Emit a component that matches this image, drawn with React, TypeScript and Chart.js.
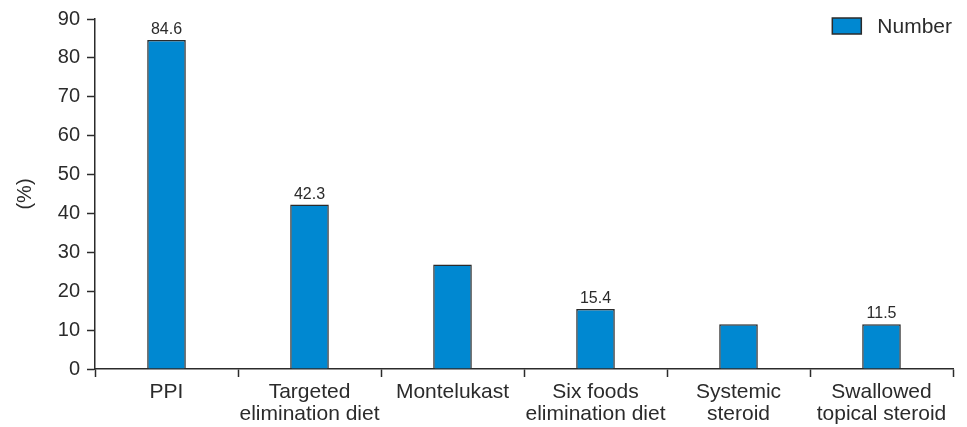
import React, { useEffect, useRef } from 'react';
import { Chart, registerables } from 'chart.js';
import type { Plugin } from 'chart.js';

Chart.register(...registerables);

const categories: string[][] = [
  ['PPI'],
  ['Targeted', 'elimination diet'],
  ['Montelukast'],
  ['Six foods', 'elimination diet'],
  ['Systemic', 'steroid'],
  ['Swallowed', 'topical steroid'],
];
const percentValues = [84.6, 42.3, 26.9, 15.4, 11.5, 11.5];
const valueLabels = ['84.6', '42.3', '', '15.4', '', '11.5'];
const yTicks = [0, 10, 20, 30, 40, 50, 60, 70, 80, 90];

const seriesName = 'Number';
const barColor = '#0088d1';
const inkColor = '#2b2b2b';
const fontFamily = '"Liberation Sans", Arial, sans-serif';

// labels above selected bars
const valueLabelPlugin: Plugin<'bar'> = {
  id: 'valueLabels',
  afterDatasetsDraw(chart) {
    const ctx = chart.ctx;
    const meta = chart.getDatasetMeta(0);
    ctx.save();
    ctx.font = `16px ${fontFamily}`;
    ctx.fillStyle = inkColor;
    ctx.textAlign = 'center';
    ctx.textBaseline = 'alphabetic';
    meta.data.forEach((bar, i) => {
      const text = valueLabels[i];
      if (!text) return;
      ctx.fillText(text, bar.x, bar.y - 6);
    });
    ctx.restore();
  },
};

// legend drawn in the top right corner of the plot
const cornerLegendPlugin: Plugin<'bar'> = {
  id: 'cornerLegend',
  afterDraw(chart) {
    const ctx = chart.ctx;
    const area = chart.chartArea;
    const label = chart.data.datasets[0].label || '';
    ctx.save();
    ctx.font = `21px ${fontFamily}`;
    const textW = ctx.measureText(label).width;
    const textX = area.right - textW - 1;
    const boxX = textX - 16 - 29;
    const boxY = 18;
    ctx.fillStyle = barColor;
    ctx.fillRect(boxX, boxY, 29, 16);
    ctx.strokeStyle = inkColor;
    ctx.lineWidth = 1.5;
    ctx.strokeRect(boxX, boxY, 29, 16);
    ctx.fillStyle = inkColor;
    ctx.textBaseline = 'middle';
    ctx.fillText(label, textX, boxY + 9);
    ctx.restore();
  },
};

const App: React.FC = () => {
  const canvasRef = useRef<HTMLCanvasElement | null>(null);
  const chartRef = useRef<Chart<'bar'> | null>(null);

  useEffect(() => {
    document.body.style.margin = '0';
    if (!canvasRef.current) return;
    if (chartRef.current) chartRef.current.destroy();

    chartRef.current = new Chart(canvasRef.current, {
      type: 'bar',
      data: {
        labels: categories,
        datasets: [
          {
            label: seriesName,
            data: percentValues,
            backgroundColor: barColor,
            borderColor: inkColor,
            borderWidth: 1.5,
            categoryPercentage: 1,
            barPercentage: 0.27,
          },
        ],
      },
      options: {
        animation: false,
        responsive: false,
        maintainAspectRatio: false,
        layout: { padding: { top: 18, right: 14, left: 0, bottom: 0 } },
        plugins: {
          legend: { display: false },
          tooltip: { enabled: false },
        },
        scales: {
          x: {
            grid: {
              offset: true,
              drawOnChartArea: false,
              tickLength: 8,
              tickColor: inkColor,
              tickWidth: 1.5,
            },
            border: { color: inkColor, width: 1.5 },
            ticks: {
              color: inkColor,
              padding: 4,
              maxRotation: 0,
              autoSkip: false,
              font: { family: fontFamily, size: 21, lineHeight: 1.05 },
            },
            afterFit(scale) {
              scale.height = 58;
            },
          },
          y: {
            min: 0,
            max: 90,
            afterBuildTicks(scale) {
              scale.ticks = yTicks.map((v) => ({ value: v }));
            },
            grid: {
              drawOnChartArea: false,
              tickLength: 8,
              tickColor: inkColor,
              tickWidth: 1.5,
            },
            border: { color: inkColor, width: 1.5 },
            ticks: {
              color: inkColor,
              padding: 7,
              font: { family: fontFamily, size: 20 },
            },
            title: {
              display: true,
              text: '(%)',
              color: inkColor,
              padding: { top: 13, bottom: 0 },
              font: { family: fontFamily, size: 20 },
            },
            afterFit(scale) {
              scale.width = 95;
            },
          },
        },
      },
      plugins: [valueLabelPlugin, cornerLegendPlugin],
    });

    return () => {
      if (chartRef.current) {
        chartRef.current.destroy();
        chartRef.current = null;
      }
    };
  }, []);

  return (
    <div style={{ width: 967, height: 427, background: '#fff' }}>
      <canvas ref={canvasRef} width={967} height={427} style={{ width: 967, height: 427 }} />
    </div>
  );
};

export default App;
